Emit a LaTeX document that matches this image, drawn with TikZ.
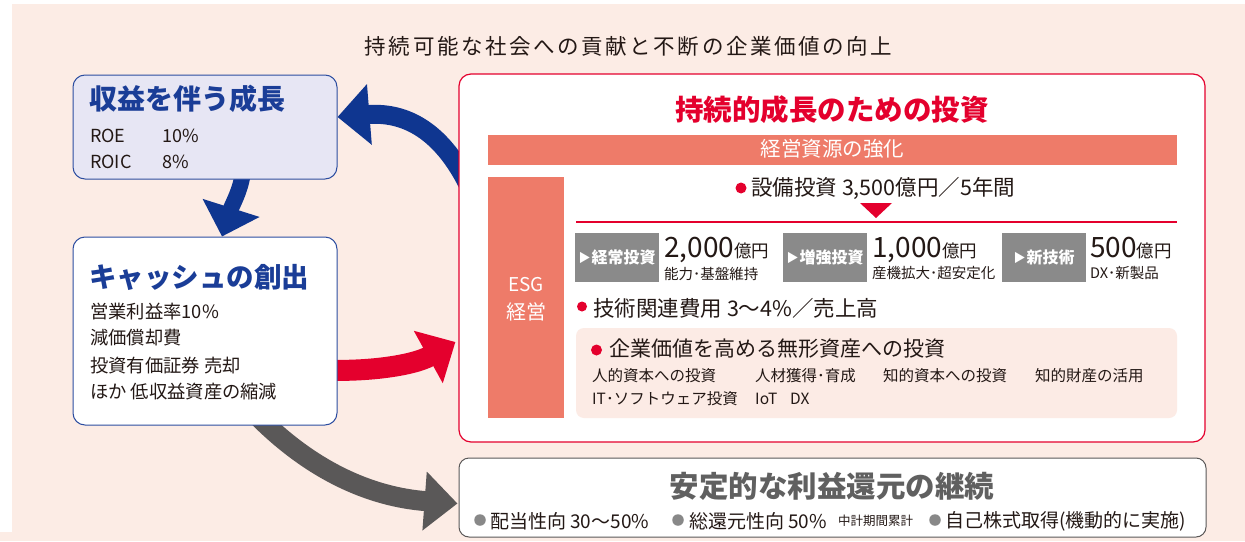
\documentclass[tikz,border=0pt]{standalone}
\usepackage{fontspec}
\setmainfont{Noto Sans CJK JP}
\usetikzlibrary{arrows.meta,calc}
\definecolor{bgpink}{HTML}{FCECE5}
\definecolor{lav}{HTML}{E7E6F4}
\definecolor{navy}{HTML}{0F3690}
\definecolor{boxblue}{HTML}{2C4DA0}
\definecolor{tblue}{HTML}{1A3D97}
\definecolor{crimson}{HTML}{E4002D}
\definecolor{salmon}{HTML}{EE7B69}
\definecolor{gbox}{HTML}{8A8A8A}
\definecolor{darrow}{HTML}{5A5858}
\definecolor{gtitle}{HTML}{606060}
\definecolor{gbullet}{HTML}{888888}
\definecolor{ink}{HTML}{231815}
\definecolor{innerpink}{HTML}{FCEBE5}
\newcommand\fsz[1]{\fontsize{#1}{#1}\selectfont}
\newcommand\tri{{\fsz{12}\raisebox{1.5pt}{▶}}\hspace{1pt}}
\pgfdeclarelayer{back}
\pgfdeclarelayer{arrowlayer}
\pgfsetlayers{back,arrowlayer,main}
\begin{document}
\begin{tikzpicture}[x=1pt,y=-1pt,
  txt/.style={inner sep=0pt,text=ink},
  bluebox/.style={draw=boxblue,line width=1pt,rounded corners=12pt,inner sep=0pt},
  salbar/.style={fill=salmon,inner sep=0pt},
  graylab/.style={fill=gbox,inner sep=0pt,minimum width=84pt,minimum height=49pt,text=white,font=\bfseries\fsz{16}},
  dot/.style={circle,inner sep=0pt,minimum size=#1},
  bigarrow/.style={line width=#1},
]
\useasboundingbox (0,0) rectangle (1245,541);
\begin{pgfonlayer}{back}
\fill[white] (0,0) rectangle (1245,541);
\fill[bgpink] (12,4) rectangle (1245,532);
\fill[bgpink] (0,532) rectangle (1245,541);
\end{pgfonlayer}

% title
\node[txt,font=\fsz{21.5}\addfontfeatures{LetterSpace=12}] (head) at (628.5,46) {持続可能な社会への貢献と不断の企業価値の向上};

% left boxes
\node[bluebox,fill=lav,minimum width=264pt,minimum height=104pt] (grow) at (205,127) {};
\node[txt,anchor=west,text=tblue,font=\bfseries\fsz{28}] (growt) at (89,99) {収益を伴う成長};
\node[txt,anchor=base west,font=\fsz{18}] (roe) at (90,142) {ROE};
\node[txt,anchor=base west,font=\fsz{18}] (roev) at (162,142) {10\%};
\node[txt,anchor=base west,font=\fsz{18}] (roic) at (90,168) {ROIC};
\node[txt,anchor=base west,font=\fsz{18}] (roicv) at (162,168) {8\%};

\node[bluebox,fill=white,minimum width=264pt,minimum height=188pt] (cash) at (205,331) {};
\node[txt,anchor=west,text=tblue,font=\bfseries\fsz{27.5}] (casht) at (89,277) {キャッシュの創出};
\node[txt,anchor=west,font=\fsz{18.3}] (c1) at (90,311.5) {営業利益率10\%};
\node[txt,anchor=west,font=\fsz{18.3}] (c2) at (90,338) {減価償却費};
\node[txt,anchor=west,font=\fsz{18.3}] (c3) at (90,365.5) {投資有価証券 売却};
\node[txt,anchor=west,font=\fsz{18.3}] (c4) at (90,391.5) {ほか 低収益資産の縮減};

% investment box
\node[draw=crimson,line width=1.2pt,fill=white,rounded corners=12pt,minimum width=746pt,minimum height=368pt,inner sep=0pt] (invest) at (832,258) {};
\node[txt,text=crimson,font=\bfseries\fsz{28.5}] (investt) at (832,110) {持続的成長のための投資};
\node[salbar,minimum width=689pt,minimum height=30pt] (bar) at (832.5,150) {};
\node[txt,text=white,font=\fsz{20.5}] (bart) at (832.5,149) {経営資源の強化};
\node[salbar,minimum width=76pt,minimum height=241pt] (esg) at (526,297.5) {};
\node[txt,text=white,font=\fsz{19}] (esg1) at (526,285) {ESG};
\node[txt,text=white,font=\fsz{20}] (esg2) at (526,312) {経営};

\node[dot=11pt,fill=crimson] (b1) at (741,188) {};
\node[txt,anchor=west,font=\fsz{21.5}] (capex) at (751,188) {設備投資 3,500億円／5年間};
\fill[crimson] (860,203) -- (892,203) -- (876,218) -- cycle;
\draw[crimson,line width=1.2pt] (576,222) -- (1177,222);

\node[graylab] (g1) at (617,257.5) {\tri 経常投資};
\node[graylab] (g2) at (825,257.5) {\tri 増強投資};
\node[graylab] (g3) at (1044,257.5) {\tri 新技術};
\node[txt,anchor=base west] (a1) at (664,257) {\fsz{28}2,000\fsz{17.5}億円};
\node[txt,anchor=west,font=\fsz{14.5}] (a1s) at (664,273.5) {能力･基盤維持};
\node[txt,anchor=base west] (a2) at (872,257) {\fsz{28}1,000\fsz{17.5}億円};
\node[txt,anchor=west,font=\fsz{14.5}] (a2s) at (872,273.5) {産機拡大･超安定化};
\node[txt,anchor=base west] (a3) at (1090,257) {\fsz{28}500\fsz{17.5}億円};
\node[txt,anchor=west,font=\fsz{14.5}] (a3s) at (1090,273.5) {DX･新製品};

\node[dot=10pt,fill=crimson] (b2) at (582,306.5) {};
\node[txt,anchor=west,font=\fsz{21.5}] (rd) at (593,308) {技術関連費用 3〜4\%／売上高};

\node[fill=innerpink,rounded corners=8pt,minimum width=601pt,minimum height=90pt,inner sep=0pt] (intang) at (876.5,373) {};
\node[dot=11pt,fill=crimson] (b3) at (596.5,350) {};
\node[txt,anchor=west,font=\fsz{21}] (intt) at (609,349) {企業価値を高める無形資産への投資};
\node[txt,anchor=west,font=\fsz{15.5}] (i1) at (592,376) {人的資本への投資};
\node[txt,anchor=west,font=\fsz{15.5}] (i2) at (755,376) {人材獲得･育成};
\node[txt,anchor=west,font=\fsz{15.5}] (i3) at (883,376) {知的資本への投資};
\node[txt,anchor=west,font=\fsz{15.5}] (i4) at (1035,376) {知的財産の活用};
\node[txt,anchor=west,font=\fsz{15.5}] (i5) at (592,399) {IT･ソフトウェア投資};
\node[txt,anchor=west,font=\fsz{15.5}] (i6) at (755,399) {IoT};
\node[txt,anchor=west,font=\fsz{15.5}] (i7) at (790,399) {DX};

% returns box
\node[draw=darrow,line width=1pt,fill=white,rounded corners=10pt,minimum width=747pt,minimum height=79pt,inner sep=0pt] (ret) at (832.5,497.5) {};
\node[txt,text=gtitle,font=\bfseries\fsz{29.5}] (rett) at (832,486) {安定的な利益還元の継続};
\node[dot=11.5pt,fill=gbullet] (d1) at (480,520) {};
\node[txt,anchor=west,font=\fsz{19}] (r1) at (490,521) {配当性向 30〜50\%};
\node[dot=11.5pt,fill=gbullet] (d2) at (678,520) {};
\node[txt,anchor=west,font=\fsz{19}] (r2) at (689,521) {総還元性向 50\%};
\node[txt,anchor=west,font=\fsz{12.5}] (r2s) at (838,521) {中計期間累計};
\node[dot=11.5pt,fill=gbullet] (d3) at (935,520) {};
\node[txt,anchor=west,font=\fsz{19}] (r3) at (945,521) {自己株式取得(機動的に実施)};

% arrows
\begin{pgfonlayer}{arrowlayer}
\draw[navy,bigarrow=19pt,-{Triangle[length=32pt,width=59pt]}]
  ($(invest.north west)+(12,116)$) .. controls (440,125) and (400,112) .. ($(grow.east)+(0,-10)$);
\draw[navy,bigarrow=16pt,-{Triangle[length=30pt,width=58pt]}]
  ($(grow.south)+(38,-8)$) .. controls (241,190) and (232,205) .. ($(cash.north)+(17,0)$);
\draw[crimson,bigarrow=21pt,-{Triangle[length=31pt,width=58pt]}]
  ($(cash.east)+(-15,39)$) .. controls (365,372) and (412,366) .. ($(invest.west)+(-3,84)$);
\draw[darrow,bigarrow=20pt,-{Triangle[length=33pt,width=57pt]}]
  ($(cash.south)+(50,-12)$) .. controls (310,470) and (370,497) .. ($(ret.west)+(-1,6)$);
\end{pgfonlayer}
\end{tikzpicture}
\end{document}
